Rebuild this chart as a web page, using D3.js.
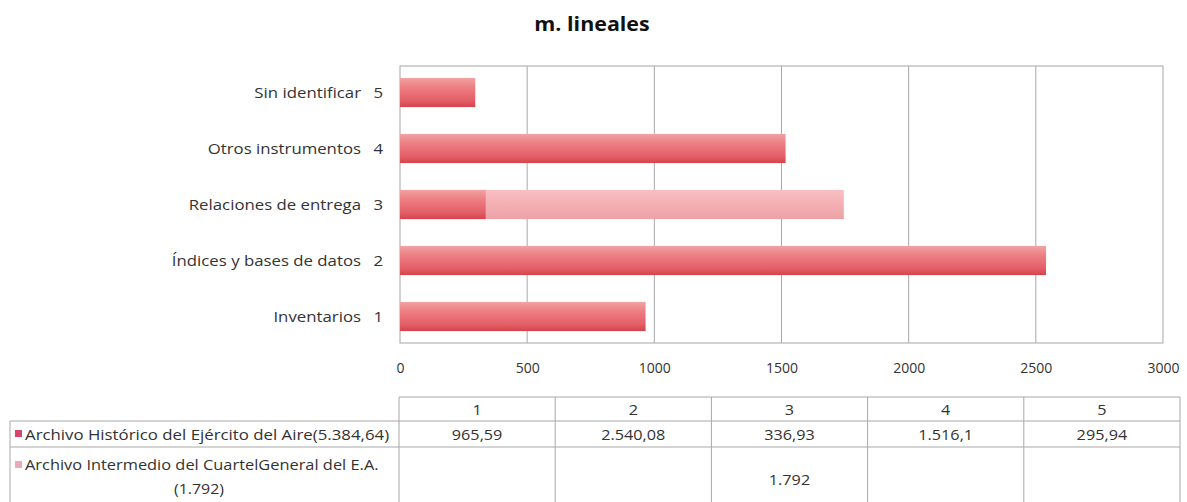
<!DOCTYPE html>
<html><head><meta charset="utf-8">
<script src="https://cdn.jsdelivr.net/npm/d3@7/dist/d3.min.js"></script>
<style>body{margin:0;background:#fff}svg{display:block}</style>
</head><body>
<svg id="c" width="1187" height="502"></svg>
<script>
const title = "m. lineales";
const categories = ["Inventarios","Índices y bases de datos","Relaciones de entrega","Otros instrumentos","Sin identificar"];
const codes = ["1","2","3","4","5"];
const historico = [965.59, 2540.08, 336.93, 1516.1, 295.94];
const intermedio = [0, 0, 1745, 0, 0];
const xTicks = [0, 500, 1000, 1500, 2000, 2500, 3000];
const seriesNames = ["Archivo Histórico del Ejército del Aire(5.384,64)", ["Archivo Intermedio del CuartelGeneral del E.A.", "(1.792)"]];
const historicoLabels = ["965,59", "2.540,08", "336,93", "1.516,1", "295,94"];
const intermedioLabels = ["", "", "1.792", "", ""];

const svg = d3.select("#c");
const font = "'Open Sans', sans-serif";
const L = 400, R = 1163, T = 66, B = 343;
const SX = 1.12;

function txt(g, x, y, s, opts = {}) {
  return g.append("text")
    .attr("transform", `translate(${x},${y}) scale(${opts.sx || SX},1)`)
    .attr("text-anchor", opts.anchor || "start")
    .text(s);
}

const defs = svg.append("defs");
function grad(id, stops){
  const g = defs.append("linearGradient").attr("id", id).attr("x1",0).attr("y1",0).attr("x2",0).attr("y2",1);
  stops.forEach(s => g.append("stop").attr("offset", s[0]).attr("stop-color", s[1]));
}
grad("gDark", [[0,"#f3a2a4"],[0.35,"#ec7c80"],[0.75,"#e4606a"],[1,"#d5434a"]]);
grad("gLight", [[0,"#f8c0c3"],[0.4,"#f5b2b6"],[1,"#eca2a6"]]);

const tg0 = svg.append("g").attr("font-family", font).attr("font-weight","bold").attr("font-size", 19.5).attr("fill","#111");
txt(tg0, 592, 31, title, {anchor: "middle", sx: 1.1});

const x = d3.scaleLinear().domain([0, 3000]).range([L, R]);
const yOrder = codes.slice().reverse();
const y = d3.scaleBand().domain(yOrder).range([T, B]).paddingInner(0.48).paddingOuter(0.213);

// grid
svg.append("g").selectAll("line").data(xTicks.slice(1, -1)).join("line")
  .attr("x1", d => x(d)).attr("x2", d => x(d)).attr("y1", T).attr("y2", B)
  .attr("stroke", "#a8a8a8").attr("stroke-width", 1);
svg.append("rect").attr("x", L).attr("y", T).attr("width", R - L).attr("height", B - T)
  .attr("fill", "none").attr("stroke", "#b4b4b4").attr("stroke-width", 1.2);

// bars
svg.append("g").selectAll("rect").data(codes.map((c,i)=>({c, v:intermedio[i]})).filter(d=>d.v>0)).join("rect")
  .attr("x", x(0)).attr("y", d => y(d.c)).attr("width", d => x(d.v) - x(0)).attr("height", y.bandwidth())
  .attr("fill", "url(#gLight)");
svg.append("g").selectAll("rect").data(codes.map((c,i)=>({c, v:historico[i]}))).join("rect")
  .attr("x", x(0)).attr("y", d => y(d.c)).attr("width", d => x(d.v) - x(0)).attr("height", y.bandwidth())
  .attr("fill", "url(#gDark)");

// y labels
const yl = svg.append("g").attr("font-family", font).attr("font-size", 15).attr("fill", "#333");
codes.forEach((c, i) => {
  const cy = y(c) + y.bandwidth()/2 + 5.5;
  txt(yl, 383, cy, c, {anchor: "end"});
  txt(yl, 361, cy, categories[i], {anchor: "end"});
});

// x axis labels
const xAxis = d3.axisBottom(x).tickValues(xTicks).tickSize(0).tickPadding(0).tickFormat(d3.format("d"));
const xg = svg.append("g").attr("transform", `translate(0,${363})`).call(xAxis);
xg.select(".domain").remove();
xg.selectAll("text").attr("font-family", font).attr("font-size", 14).attr("fill", "#333");

// table
const col = d3.scaleBand().domain(codes).range([399, 1180]);
const tL = 10, hTop = 397, r1Top = 421, r2Top = 447, tBot = 520;
const tg = svg.append("g").attr("stroke", "#a8a8a8").attr("stroke-width", 1).attr("fill","none");
tg.append("line").attr("x1", 399).attr("x2", 1180).attr("y1", hTop).attr("y2", hTop);
tg.append("line").attr("x1", tL).attr("x2", 1180).attr("y1", r1Top).attr("y2", r1Top);
tg.append("line").attr("x1", tL).attr("x2", 1180).attr("y1", r2Top).attr("y2", r2Top);
tg.append("line").attr("x1", tL).attr("x2", tL).attr("y1", r1Top).attr("y2", tBot);
codes.forEach(c => tg.append("line").attr("x1", col(c)).attr("x2", col(c)).attr("y1", hTop).attr("y2", tBot));
tg.append("line").attr("x1", 1180).attr("x2", 1180).attr("y1", hTop).attr("y2", tBot);

const tt = svg.append("g").attr("font-family", font).attr("font-size", 14.5).attr("fill", "#333");
codes.forEach((c, i) => {
  const cx = col(c) + col.bandwidth()/2;
  txt(tt, cx, 415, c, {anchor: "middle"});
  txt(tt, cx, 440, historicoLabels[i], {anchor: "middle"});
  txt(tt, cx, 485, intermedioLabels[i], {anchor: "middle"});
});
svg.append("rect").attr("x", 15).attr("y", 430).attr("width", 7).attr("height", 7).attr("fill", "#d9446c");
svg.append("rect").attr("x", 15).attr("y", 461).attr("width", 7).attr("height", 7).attr("fill", "#eaaabb");
txt(tt, 25, 440, seriesNames[0], {sx: 1.16});
txt(tt, 25, 470, seriesNames[1][0], {sx: 1.13});
txt(tt, 199, 494, seriesNames[1][1], {anchor: "middle", sx: 1.1});
</script>
</body></html>
